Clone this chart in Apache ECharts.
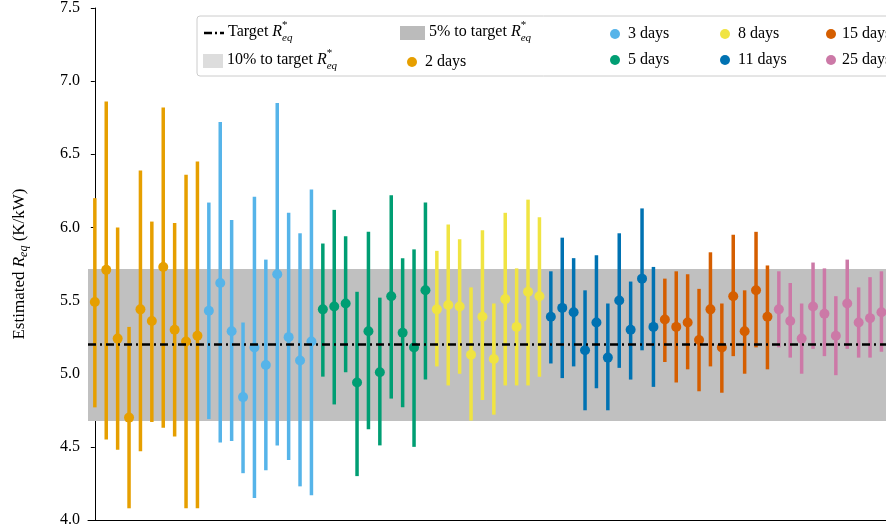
<!DOCTYPE html>
<html>
<head>
<meta charset="utf-8">
<script src="https://cdn.jsdelivr.net/npm/echarts@6/dist/echarts.min.js"></script>
<style>html,body{margin:0;padding:0;background:#fff}#chart{width:886px;height:531px}</style>
</head>
<body>
<div id="chart"></div>
<script>
const groupNames = ['2 days', '3 days', '5 days', '8 days', '11 days', '15 days', '25 days'];
const groupColors = ['#E69F00', '#56B4E9', '#009E73', '#F0E442', '#0072B2', '#D55E00', '#CC79A7'];
const target = 5.196;
const band10 = [4.676, 5.716];
const yTicks = [4.0, 4.5, 5.0, 5.5, 6.0, 6.5, 7.0, 7.5];

// estimate, lower, upper per run, 10 runs per group
const mean = [
  [5.49, 5.71, 5.24, 4.70, 5.44, 5.36, 5.73, 5.30, 5.22, 5.26],
  [5.43, 5.62, 5.29, 4.84, 5.18, 5.06, 5.68, 5.25, 5.09, 5.22],
  [5.44, 5.46, 5.48, 4.94, 5.29, 5.01, 5.53, 5.28, 5.18, 5.57],
  [5.44, 5.47, 5.46, 5.13, 5.39, 5.10, 5.51, 5.32, 5.56, 5.53],
  [5.39, 5.45, 5.42, 5.16, 5.35, 5.11, 5.50, 5.30, 5.65, 5.32],
  [5.37, 5.32, 5.35, 5.23, 5.44, 5.18, 5.53, 5.29, 5.57, 5.39],
  [5.44, 5.36, 5.24, 5.46, 5.41, 5.26, 5.48, 5.35, 5.38, 5.42]
];
const lower = [
  [4.77, 4.55, 4.48, 4.08, 4.47, 4.67, 4.63, 4.57, 4.08, 4.08],
  [4.69, 4.53, 4.54, 4.32, 4.15, 4.34, 4.51, 4.41, 4.23, 4.17],
  [4.98, 4.79, 5.01, 4.30, 4.62, 4.51, 4.83, 4.77, 4.50, 4.96],
  [5.05, 4.92, 5.00, 4.68, 4.82, 4.72, 4.92, 4.92, 4.92, 4.98],
  [5.07, 4.97, 5.05, 4.75, 4.90, 4.75, 5.04, 4.96, 5.16, 4.91],
  [5.08, 4.94, 5.03, 4.88, 5.05, 4.87, 5.12, 5.00, 5.18, 5.03],
  [5.18, 5.11, 5.00, 5.17, 5.12, 4.99, 5.17, 5.11, 5.11, 5.15]
];
const upper = [
  [6.20, 6.86, 6.00, 5.32, 6.39, 6.04, 6.82, 6.03, 6.36, 6.45],
  [6.17, 6.72, 6.05, 5.35, 6.21, 5.78, 6.85, 6.10, 5.96, 6.26],
  [5.89, 6.12, 5.94, 5.56, 5.97, 5.52, 6.22, 5.79, 5.85, 6.17],
  [5.84, 6.02, 5.92, 5.59, 5.98, 5.48, 6.10, 5.72, 6.19, 6.07],
  [5.70, 5.93, 5.79, 5.57, 5.81, 5.48, 5.96, 5.63, 6.13, 5.73],
  [5.65, 5.70, 5.68, 5.58, 5.83, 5.48, 5.95, 5.57, 5.97, 5.74],
  [5.70, 5.62, 5.48, 5.76, 5.72, 5.53, 5.78, 5.59, 5.66, 5.70]
];

const font = 'Liberation Serif';
const series = [];

series.push({
  type: 'line', data: [], silent: true,
  markArea: { silent: true, itemStyle: { color: '#c0c0c0' },
    data: [[{ yAxis: band10[0] }, { yAxis: band10[1] }]] },
  markLine: { silent: true, symbol: 'none', label: { show: false },
    lineStyle: { color: '#000', width: 2.5, type: [8, 4, 2, 4] },
    data: [{ yAxis: target }] }
});

groupNames.forEach((name, g) => {
  const bars = mean[g].map((m, i) => [g * 10 + i, lower[g][i], upper[g][i]]);
  const pts = mean[g].map((m, i) => [g * 10 + i, m]);
  series.push({
    type: 'custom', name, data: bars, z: 3,
    renderItem: (params, api) => {
      const a = api.coord([api.value(0), api.value(1)]);
      const b = api.coord([api.value(0), api.value(2)]);
      return { type: 'line', shape: { x1: a[0], y1: a[1], x2: b[0], y2: b[1] },
        style: { stroke: groupColors[g], lineWidth: 3.5 } };
    }
  });
  series.push({
    type: 'scatter', name, data: pts, z: 4, symbolSize: 10,
    itemStyle: { color: groupColors[g], opacity: 1 }
  });
});

const txt = (x, y, s) => ({ type: 'text', left: x, top: y,
  style: { text: s, font: '16px ' + font, fill: '#000' } });
const richTxt = (x, y, pre) => ({ type: 'text', left: x, top: y - 4,
  style: {
    text: '{t|' + pre + '}{r|R}{s|*}{b|eq}',
    rich: {
      t: { fontFamily: font, fontSize: 16, lineHeight: 24, verticalAlign: 'middle' },
      r: { fontFamily: font, fontStyle: 'italic', fontSize: 16, lineHeight: 24, verticalAlign: 'middle' },
      s: { fontFamily: font, fontSize: 11, width: 0, lineHeight: 24, verticalAlign: 'top' },
      b: { fontFamily: font, fontStyle: 'italic', fontSize: 11, lineHeight: 24, verticalAlign: 'bottom' }
    }
  } });
const dot = (x, y, c) => ({ type: 'circle', shape: { cx: x, cy: y, r: 5 }, style: { fill: c } });

const legend = [
  { type: 'rect', shape: { x: 197, y: 16, width: 700, height: 60, r: 3 },
    style: { fill: 'rgba(255,255,255,0.85)', stroke: '#ccc', lineWidth: 1 } },
  { type: 'line', shape: { x1: 204, y1: 33, x2: 224, y2: 33 },
    style: { stroke: '#000', lineWidth: 2.5, lineDash: [8, 3, 2, 3] } },
  richTxt(228, 24, 'Target '),
  { type: 'rect', shape: { x: 400, y: 26, width: 25, height: 14 }, style: { fill: '#bbbbbb' } },
  richTxt(429, 24, '5% to target '),
  { type: 'rect', shape: { x: 203, y: 54, width: 20, height: 14 }, style: { fill: '#dddddd' } },
  richTxt(227, 52, '10% to target '),
  dot(412, 62, groupColors[0]), txt(425, 54, '2 days'),
  dot(615, 34, groupColors[1]), txt(628, 26, '3 days'),
  dot(615, 60, groupColors[2]), txt(628, 52, '5 days'),
  dot(725, 34, groupColors[3]), txt(738, 26, '8 days'),
  dot(725, 60, groupColors[4]), txt(738, 52, '11 days'),
  dot(831, 34, groupColors[5]), txt(842, 26, '15 days'),
  dot(831, 60, groupColors[6]), txt(842, 52, '25 days')
];

const chart = echarts.init(document.getElementById('chart'));
chart.setOption({
  animation: false,
  grid: { left: 88, right: 0, top: 8, bottom: 11, containLabel: false },
  xAxis: { type: 'value', min: -0.6, max: 69.4, axisLabel: { show: false },
    axisTick: { show: false }, splitLine: { show: false },
    axisLine: { lineStyle: { color: '#000', width: 1 } } },
  yAxis: {
    type: 'value', min: 4.0, max: 7.5, interval: 0.5,
    splitLine: { show: false },
    axisLine: { show: true, lineStyle: { color: '#000', width: 1 } },
    axisTick: { show: true, length: 4, lineStyle: { color: '#000' } },
    axisLabel: { fontFamily: font, fontSize: 16, color: '#000', margin: 8,
      formatter: v => yTicks.includes(v) ? v.toFixed(1) : '' },
    name: '{t|Estimated }{r|R}{s|eq}{t| (K/kW)}',
    nameLocation: 'middle', nameGap: 58, nameRotate: 90,
    nameTextStyle: { rich: {
      t: { fontFamily: font, fontSize: 17, color: '#000' },
      r: { fontFamily: font, fontSize: 17, fontStyle: 'italic', color: '#000' },
      s: { fontFamily: font, fontSize: 12, fontStyle: 'italic', color: '#000', verticalAlign: 'bottom', padding: [8, 0, 0, 0] }
    } }
  },
  graphic: legend,
  series
});
</script>
</body>
</html>
